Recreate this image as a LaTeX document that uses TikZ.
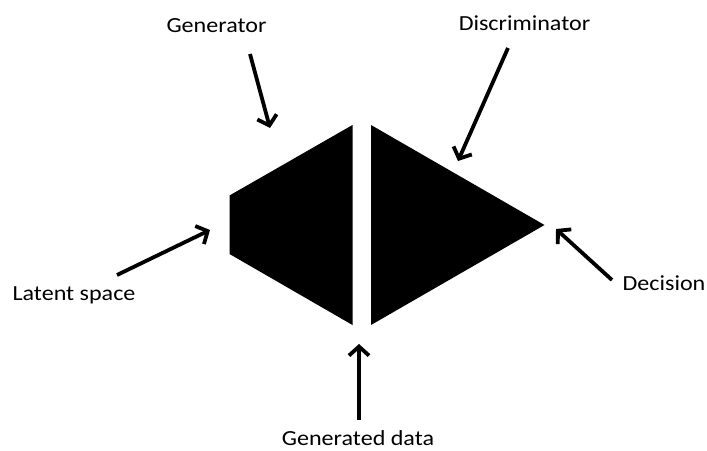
\documentclass[tikz,border=0pt]{standalone}
\usepackage{fontspec}
\usepackage{graphicx}
\setmainfont{Carlito}
\usetikzlibrary{arrows.meta}
\newcommand{\wide}[1]{\scalebox{1.12}[1]{#1}}
\begin{document}
\begin{tikzpicture}[x=1pt,y=-1pt,
  lbl/.style={font=\fontsize{21.5}{25}\selectfont, inner sep=0pt, anchor=base},
  ptr/.style={line width=3.8pt, -{Straight Barb[length=9pt,width=20pt,line width=3.8pt]}},
  blk/.style={fill=black, draw=none}]
\useasboundingbox[fill=white] (0,0) rectangle (707,450);
% shapes
\fill[blk] (229.5,195.5) -- (352.5,125) -- (352.5,325) -- (229.5,254) -- cycle;
\fill[blk] (371,125) -- (544.5,225) -- (371,325) -- cycle;
% labels
\node[lbl] (gen) at (216.5,32) {\wide{Generator}};
\node[lbl] (dis) at (524.5,30.5) {\wide{Discriminator}};
\node[lbl] (lat) at (74,300) {\wide{Latent space}};
\node[lbl] (dec) at (664,290.5) {\wide{Decision}};
\node[lbl] (gd) at (358,445) {\wide{Generated data}};
% arrow ends
\coordinate (gs) at (250,54);
\coordinate (ge) at (270,128);
\coordinate (ds) at (508,48);
\coordinate (de) at (458,161);
\coordinate (ls) at (117,275);
\coordinate (le) at (210,230);
\coordinate (cs) at (612,280);
\coordinate (ce) at (556,229);
\coordinate (ks) at (359,420);
\coordinate (ke) at (359,344);
\draw[ptr] (gs) -- (ge);
\draw[ptr] (ds) -- (de);
\draw[ptr] (ls) -- (le);
\draw[ptr] (cs) -- (ce);
\draw[ptr] (ks) -- (ke);
\end{tikzpicture}
\end{document}
